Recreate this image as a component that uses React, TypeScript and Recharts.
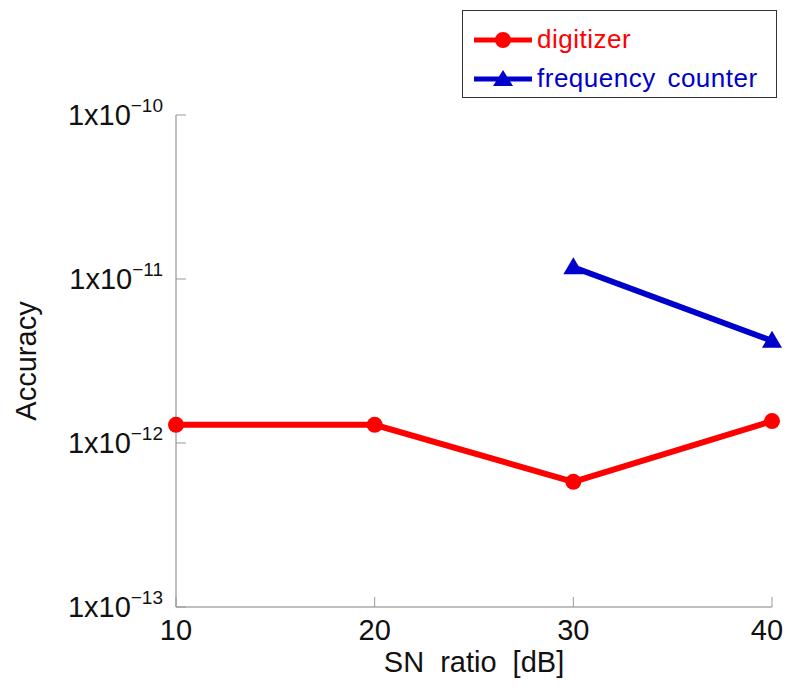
import React from 'react';
import { LineChart, Line, XAxis, YAxis, Legend } from 'recharts';

const snRatio = [10, 20, 30, 40];
const digitizer = [1.29e-12, 1.29e-12, 5.8e-13, 1.36e-12];
const counter = [null, null, 1.18e-11, 4.2e-12];
const yTicks = [1e-13, 1e-12, 1e-11, 1e-10];
const seriesNames = ['digitizer', 'frequency counter'];
const seriesColors = ['#ff0000', '#0000cc'];

const data = snRatio.map((x, i) => ({ x, digitizer: digitizer[i], counter: counter[i] }));

const W = 776;
const H = 672;
const FONT = '"Liberation Sans", Arial, sans-serif';
const TICK_COLOR = '#999';
const TICK_LEN = 10;

const LeftTick = ({ x, y, payload }: any) => {
  const exp = Math.round(Math.log10(payload.value));
  return (
    <g>
      <line x1={x + 8} x2={x + 8 + TICK_LEN} y1={y} y2={y} stroke={TICK_COLOR} />
      <text x={x - 5} y={y + 10} textAnchor="end" fontFamily={FONT} fontSize={29} fill="#111">
        1x10
        <tspan dy={-13} fontSize={19}>{`\u2212${Math.abs(exp)}`}</tspan>
      </text>
    </g>
  );
};

const RightTick = ({ x, y }: any) => (
  <line x1={x} x2={x - TICK_LEN} y1={y} y2={y} stroke={TICK_COLOR} />
);

// keep the last label inside the page edge
const BottomTick = ({ x, y, payload }: any) => (
  <g>
    <line x1={x} x2={x} y1={y - 8} y2={y - 8 - TICK_LEN} stroke={TICK_COLOR} />
    <text x={Math.min(x, W - 17)} y={y + 25} textAnchor="middle" fontFamily={FONT} fontSize={29} fill="#111">
      {payload.value}
    </text>
  </g>
);

const TopTick = ({ x, y }: any) => (
  <line x1={x} x2={x} y1={y} y2={y + TICK_LEN} stroke={TICK_COLOR} />
);

const Triangle = ({ cx, cy, fill }: any) => {
  if (cx == null || cy == null) return null;
  const s = 10;
  return <polygon points={`${cx},${cy - s} ${cx - s},${cy + s * 0.7} ${cx + s},${cy + s * 0.7}`} fill={fill} />;
};

const Circle = ({ cx, cy, fill }: any) => {
  if (cx == null || cy == null) return null;
  return <circle cx={cx} cy={cy} r={8} fill={fill} />;
};

const LegendBox = () => (
  <div
    style={{
      border: '1.5px solid #333',
      background: '#fff',
      width: 315,
      height: 88,
      boxSizing: 'border-box',
      padding: '9px 0 0 10px',
      fontFamily: FONT,
      fontSize: 26,
      letterSpacing: 0.5,
      wordSpacing: 4,
    }}
  >
    {seriesNames.map((name, i) => (
      <div key={name} style={{ display: 'flex', alignItems: 'center', height: 39, color: seriesColors[i] }}>
        <svg width={60} height={20} style={{ marginRight: 4 }}>
          <line x1={1} x2={59} y1={10} y2={10} stroke={seriesColors[i]} strokeWidth={5} />
          {i === 0 ? (
            <circle cx={30} cy={10} r={8} fill={seriesColors[i]} />
          ) : (
            <polygon points="30,1 20,17 40,17" fill={seriesColors[i]} />
          )}
        </svg>
        <span>{name}</span>
      </div>
    ))}
  </div>
);

export default function App() {
  return (
    <div style={{ width: W, height: H, background: '#fff' }}>
      <LineChart width={W} height={H} data={data} margin={{ top: 107, right: 12, bottom: 0, left: 0 }}>
        <XAxis
          dataKey="x"
          type="number"
          domain={[10, 40]}
          ticks={snRatio}
          height={73}
          tickSize={0}
          tickMargin={8}
          tickLine={false}
          axisLine={{ stroke: '#aaa', strokeWidth: 1.5 }}
          tick={<BottomTick />}
          label={{ value: 'SN ratio [dB]', position: 'insideBottom', offset: 8, fontSize: 29, fill: '#111', fontFamily: FONT, style: { wordSpacing: 8 } }}
        />
        <XAxis
          xAxisId="top"
          dataKey="x"
          type="number"
          orientation="top"
          domain={[10, 40]}
          ticks={snRatio}
          height={0}
          tickSize={0}
          tickMargin={0}
          tickLine={false}
          axisLine={{ stroke: '#aaa', strokeWidth: 1.5 }}
          tick={<TopTick />}
        />
        <YAxis
          type="number"
          scale="log"
          domain={[1e-13, 1e-10]}
          allowDataOverflow
          ticks={yTicks}
          width={168}
          tickSize={0}
          tickMargin={8}
          tickLine={false}
          axisLine={{ stroke: '#aaa', strokeWidth: 1.5 }}
          tick={<LeftTick />}
          label={{ value: 'Accuracy', angle: -90, position: 'insideLeft', offset: 18, fontSize: 29, fill: '#111', fontFamily: FONT, style: { textAnchor: 'middle' } }}
        />
        <YAxis
          yAxisId="right"
          orientation="right"
          type="number"
          scale="log"
          domain={[1e-13, 1e-10]}
          allowDataOverflow
          ticks={yTicks}
          width={0}
          tickSize={0}
          tickMargin={0}
          tickLine={false}
          axisLine={{ stroke: '#aaa', strokeWidth: 1.5 }}
          tick={<RightTick />}
        />
        <Legend
          content={<LegendBox />}
          layout="horizontal"
          verticalAlign="middle"
          align="center"
          wrapperStyle={{ position: 'absolute', top: 2, left: 454, width: 315, height: 88 }}
        />
        <Line
          dataKey="digitizer"
          name={seriesNames[0]}
          stroke={seriesColors[0]}
          strokeWidth={6}
          dot={<Circle fill={seriesColors[0]} />}
          activeDot={false}
          isAnimationActive={false}
        />
        <Line
          dataKey="counter"
          name={seriesNames[1]}
          stroke={seriesColors[1]}
          strokeWidth={6}
          dot={<Triangle fill={seriesColors[1]} />}
          activeDot={false}
          isAnimationActive={false}
        />
      </LineChart>
    </div>
  );
}
